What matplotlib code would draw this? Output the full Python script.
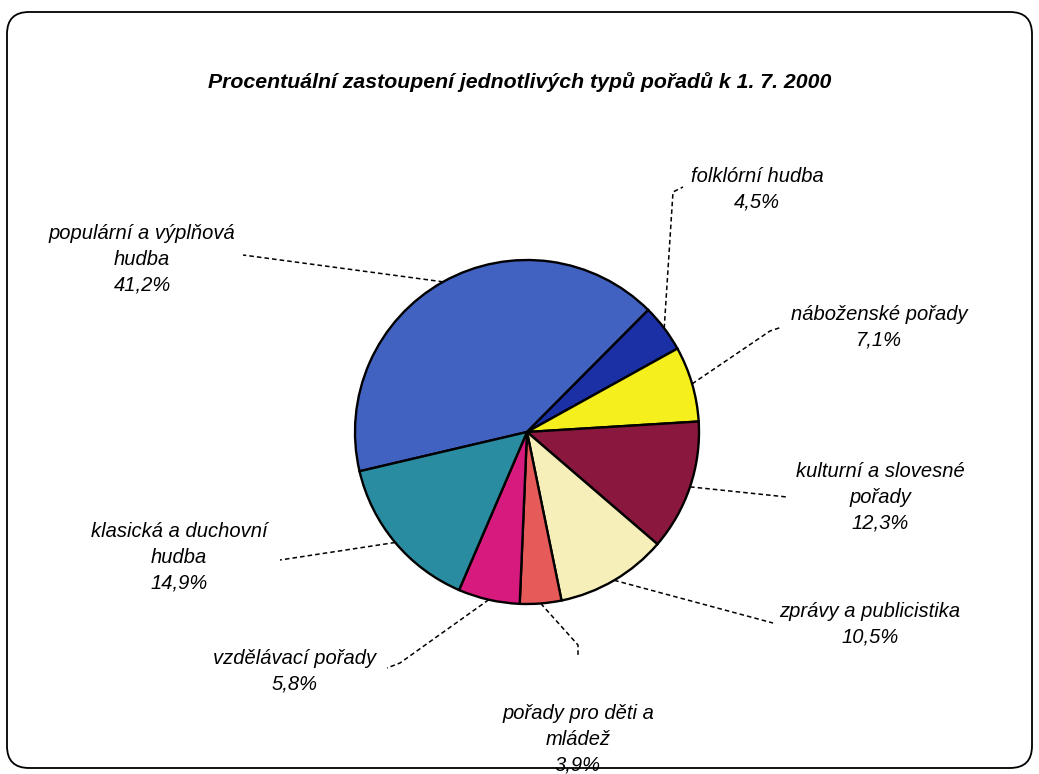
import numpy as np
import matplotlib
matplotlib.use("Agg")
import matplotlib.pyplot as plt
from matplotlib.patches import FancyBboxPatch

plt.rcParams['font.family'] = ['Liberation Sans', 'DejaVu Sans']

# data
categories = ["populární a výplňová\nhudba", "folklórní hudba", "náboženské pořady",
              "kulturní a slovesné\npořady", "zprávy a publicistika", "pořady pro děti a\nmládež",
              "vzdělávací pořady", "klasická a duchovní\nhudba"]
values = [41.2, 4.5, 7.1, 12.3, 10.5, 3.9, 5.8, 14.9]
value_labels = ["41,2%", "4,5%", "7,1%", "12,3%", "10,5%", "3,9%", "5,8%", "14,9%"]
colors = ["#4262c2", "#1c30a6", "#f6ef1e", "#8a173e", "#f6efb9", "#e65a5a", "#d61a7e", "#2a8ca0"]
title = "Procentuální zastoupení jednotlivých typů pořadů k 1. 7. 2000"

# layout (pixel coords, y from top; label y = middle of first line)
W, H = 1039, 774
center = (527, 432)
radius = 172
label_pos = [(142, 232), (757, 175), (879, 313), (880, 470), (870, 610), (578, 712), (295, 657), (179, 530)]
leader_pts = [[(243, 255)],
              [(673, 192), (683, 187)],
              [(770, 331), (782, 327)],
              [(787, 497)],
              [(773, 623)],
              [(578, 645), (578, 656)],
              [(400, 663), (387, 668)],
              [(280, 560)]]

fig = plt.figure(figsize=(W / 100, H / 100), dpi=100)
ax = fig.add_axes([0, 0, 1, 1])

wedges, _ = ax.pie(values, colors=colors, startangle=193.2, counterclock=False,
                   center=(center[0], H - center[1]), radius=radius,
                   wedgeprops=dict(edgecolor="black", linewidth=1.7))
ax.set_xlim(0, W)
ax.set_ylim(0, H)
ax.set_aspect("equal")
ax.axis("off")

# rounded frame
frame = FancyBboxPatch((7, 6), W - 14, H - 18, boxstyle="round,pad=0,rounding_size=22",
                       facecolor="none", edgecolor="black", linewidth=1.3)
ax.add_patch(frame)

ax.text(W / 2, H - 82, title, ha="center", va="center", fontsize=15.3,
        fontweight="bold", fontstyle="italic")

for w, lab, vl, (lx, ly), pts in zip(wedges, categories, value_labels, label_pos, leader_pts):
    ang = np.deg2rad((w.theta1 + w.theta2) / 2)
    x0 = center[0] + radius * np.cos(ang)
    y0 = (H - center[1]) + radius * np.sin(ang)
    xs = [x0] + [p[0] for p in pts]
    ys = [y0] + [H - p[1] for p in pts]
    ax.plot(xs, ys, color="black", linewidth=1.1, linestyle=(0, (3, 2)))
    ax.text(lx, H - (ly - 8), lab + "\n" + vl, ha="center", va="top", fontsize=14.5,
            fontstyle="italic", linespacing=1.46)

fig.savefig("out.png", dpi=100, facecolor="white")
